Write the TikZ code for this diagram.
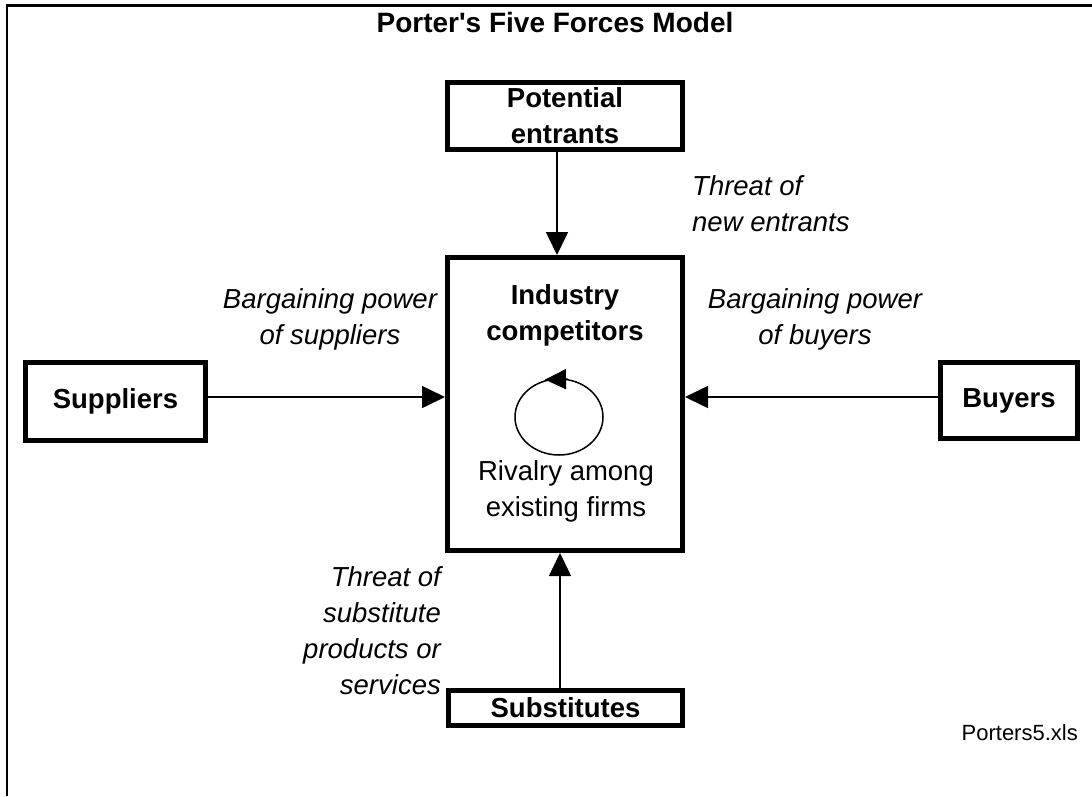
\documentclass[tikz,border=0pt]{standalone}
\usepackage{fontspec}
\setmainfont{Liberation Sans}[Ligatures=TeXOff]
\usetikzlibrary{arrows.meta}

\begin{document}
\begin{tikzpicture}[x=1pt,y=-1pt,
  forcebox/.style={draw,line width=5pt,inner sep=0pt,align=center,
    font=\fontsize{27.5}{36}\selectfont\bfseries},
  forcelabel/.style={inner sep=0pt,font=\fontsize{27.5}{36}\selectfont\itshape},
  plaintext/.style={inner sep=0pt,font=\fontsize{27.5}{36}\selectfont},
  force/.style={line width=1.6pt,-{Triangle[length=23pt,width=22pt]}}]

  \useasboundingbox (0,0) rectangle (1092,796);

  % sheet frame (top and left edges only)
  \draw[line width=2.2pt] (7,796) -- (7,5.5) -- (1092,5.5);

  % title
  \node[inner sep=0pt,font=\fontsize{28}{34}\selectfont\bfseries] (title) at (555,22)
    {Porter's Five Forces Model};

  % the five boxes
  \node[forcebox,minimum width=235pt,minimum height=67pt] (pot) at (565,116)
    {Potential\\entrants};
  \node[forcebox,minimum width=235pt,minimum height=293pt] (ind) at (565,404) {};
  \node[forcebox,minimum width=234pt,minimum height=35pt] (sub) at (565.5,708)
    {Substitutes};
  \node[forcebox,minimum width=180pt,minimum height=78pt] (sup) at (115.5,401.5)
    {Suppliers};
  \node[forcebox,minimum width=137pt,minimum height=76pt] (buy) at (1009,400.5)
    {Buyers};

  % contents of the industry box
  \node[plaintext,font=\fontsize{27.5}{36}\selectfont\bfseries,align=center]
    (indtitle) at (565,315) {Industry\\competitors};
  \node[plaintext,align=center] (rivalry) at (566,491) {Rivalry among\\existing firms};
  \draw[line width=1.5pt] (559,417) ellipse [x radius=44, y radius=38];
  \draw[line width=1.5pt,-{Triangle[length=21pt,width=20pt]}] (568,379.2) -- (545,379.6);

  % guide lines for the connectors
  \coordinate (hl) at (0,397);
  \coordinate (vt) at (557,0);
  \coordinate (vb) at (560,0);

  % forces acting on the industry
  \draw[force] (pot.south -| vt) -- (ind.north -| vt);
  \draw[force] (sub.north -| vb) -- (ind.south -| vb);
  \draw[force] (sup.east |- hl) -- (ind.west |- hl);
  \draw[force] (buy.west |- hl) -- (ind.east |- hl);

  % force labels
  \node[forcelabel,align=left,anchor=west] (lblnew) at (692,204)
    {Threat of\\new entrants};
  \node[forcelabel,align=center] (lblsup) at (330,319)
    {Bargaining power\\of suppliers};
  \node[forcelabel,align=center] (lblbuy) at (815,319)
    {Bargaining power\\of buyers};
  \node[forcelabel,align=right,anchor=east] (lblsub) at (441,631)
    {Threat of\\substitute\\products or\\services};

  % file name
  \node[inner sep=0pt,anchor=east,font=\fontsize{22}{26}\selectfont] (fname)
    at (1078,733) {Porters5.xls};
\end{tikzpicture}
\end{document}
